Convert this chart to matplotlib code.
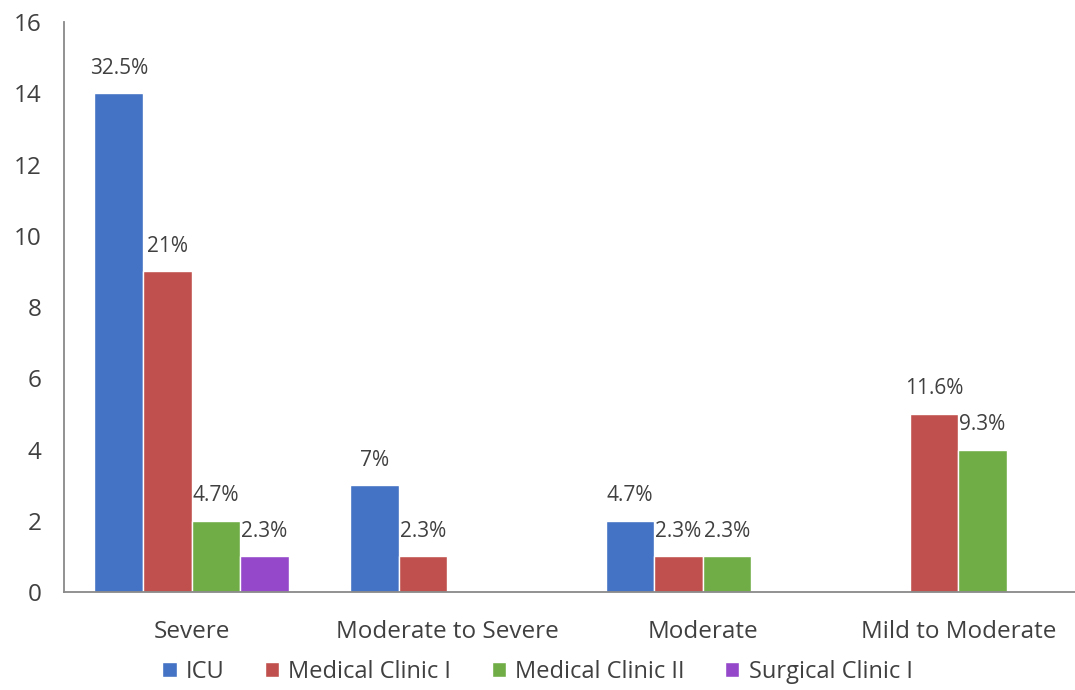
import matplotlib.pyplot as plt
import numpy as np

categories = ["Severe", "Moderate to Severe", "Moderate", "Mild to Moderate"]
series = ["ICU", "Medical Clinic I", "Medical Clinic II", "Surgical Clinic I"]
icu = [14, 3, 2, None]
clinic_1 = [9, 1, 1, 5]
clinic_2 = [2, None, 1, 4]
surgical_1 = [1, None, None, None]
labels_icu = ["32.5%", "7%", "4.7%", None]
labels_c1 = ["21%", "2.3%", "2.3%", "11.6%"]
labels_c2 = ["4.7%", None, "2.3%", "9.3%"]
labels_s1 = ["2.3%", None, None, None]

colors = ["#4472C4", "#C0504D", "#70AD47", "#9548CA"]
text_color = "#404040"

plt.rcParams["font.family"] = ["Open Sans", "DejaVu Sans"]

fig = plt.figure(figsize=(10.75, 6.9), dpi=100)
# the plot runs a little past the right edge of the picture, as in the source
ax = fig.add_axes([0.0593, 0.142, 0.951, 0.826])

x = np.arange(len(categories))
width = 0.19
all_values = [icu, clinic_1, clinic_2, surgical_1]
all_labels = [labels_icu, labels_c1, labels_c2, labels_s1]

for i, (name, vals, labs) in enumerate(zip(series, all_values, all_labels)):
    pos = x + (i - 1.5) * width
    heights = [v if v is not None else 0 for v in vals]
    ax.bar(pos, heights, width, color=colors[i], edgecolor="white",
           linewidth=1, label=name)
    for p, v, lab in zip(pos, vals, labs):
        if v is None or lab is None:
            continue
        ax.annotate(lab, (p, v), xytext=(0, 18), textcoords="offset points",
                    ha="center", va="center", fontsize=15, color=text_color)

ax.set_xlim(-0.5, 3.5)
ax.set_ylim(0, 16)
ax.set_yticks(range(0, 17, 2))
ax.set_xticks(x)
ax.set_xticklabels(categories)
ax.tick_params(axis="both", length=0, labelsize=17.5, colors=text_color)
ax.tick_params(axis="y", pad=16)
ax.tick_params(axis="x", pad=20)

for side in ["top", "right"]:
    ax.spines[side].set_visible(False)
for side in ["left", "bottom"]:
    ax.spines[side].set_color("#898989")
    ax.spines[side].set_linewidth(1.3)

fig.legend(loc="lower center", bbox_to_anchor=(0.5, -0.022), ncol=4,
           frameon=False, fontsize=17, labelcolor=text_color,
           handlelength=0.6, handleheight=0.6, handletextpad=0.4,
           columnspacing=1.7)

fig.savefig("out.png", dpi=100)
